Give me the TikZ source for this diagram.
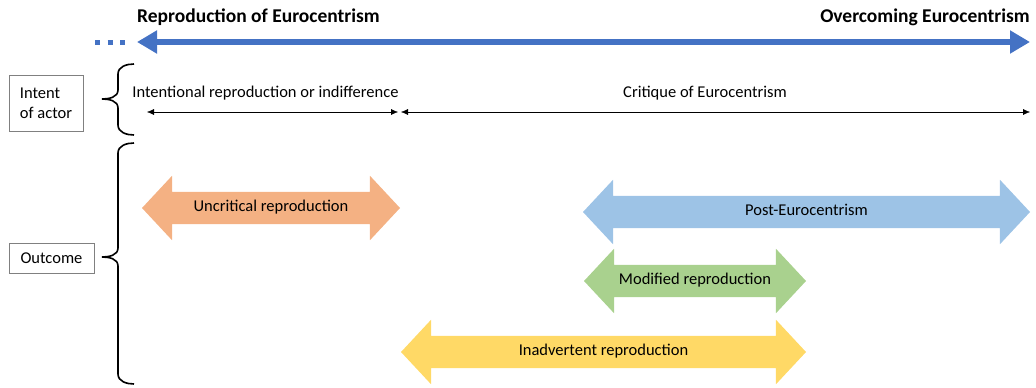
\documentclass[tikz,border=0pt]{standalone}
\usepackage{fontspec}
\setmainfont{Carlito}
\usetikzlibrary{arrows.meta, shapes.arrows}

\definecolor{axisblue}{HTML}{4472C4}
\definecolor{uncritical}{HTML}{F4B183}
\definecolor{posteuro}{HTML}{9DC3E6}
\definecolor{modified}{HTML}{A9D18E}
\definecolor{inadvertent}{HTML}{FFD966}

\tikzset{
  band/.style={double arrow, draw=none, double arrow head extend=16pt,
    double arrow tip angle=94, minimum height=#1, inner xsep=0pt,
    inner ysep=10pt, text height=9pt, text depth=3pt},
  heading/.style={font=\fontsize{19.5}{22}\selectfont\bfseries, inner sep=0pt},
  rowbox/.style={draw=gray, thin, align=left, inner sep=0pt},
  curly/.style={line width=1.6pt},
  span/.style={{Latex[length=7pt,width=6pt]}-{Latex[length=7pt,width=6pt]}, thin}
}

\begin{document}
\begin{tikzpicture}[x=1pt, y=-1pt, font=\fontsize{16.5}{20}\selectfont]
  \useasboundingbox (0,0) rectangle (1036,388);

  % headings
  \node[heading, anchor=west] (repro) at (137,17) {Reproduction of Eurocentrism};
  \node[heading, anchor=east] (overc) at (1030,17) {Overcoming Eurocentrism};

  % axis
  \coordinate (axisL) at (137,42);
  \coordinate (axisR) at (1030,42);
  \coordinate (dotsL) at (95,42);
  \coordinate (dotsR) at (125,42);
  \draw[axisblue, line width=5.5pt,
    {Triangle[length=20pt,width=22pt]}-{Triangle[length=20pt,width=22pt]}]
    (axisL) -- (axisR);
  \draw[axisblue, line width=5pt, dash pattern=on 5pt off 7.5pt] (dotsL) -- (dotsR);

  % row labels
  \node[rowbox, minimum width=74pt, minimum height=56pt] (intent) at (46,103)
    {Intent\\of actor};
  \node[rowbox, minimum width=85pt, minimum height=30pt] (outcome) at (51.5,258)
    {Outcome};

  % braces
  \draw[curly] (134,64) to[out=180,in=90] (118,74) -- (118,90)
    to[out=-90,in=0] (102,99) to[out=0,in=90] (118,108) -- (118,125)
    to[out=-90,in=180] (134,135);
  \draw[curly] (134,143) to[out=180,in=90] (118,153) -- (118,248)
    to[out=-90,in=0] (102,257) to[out=0,in=90] (118,266) -- (118,374)
    to[out=-90,in=180] (134,384);

  % intent of actor
  \node (intentional) at (265.5,93) {Intentional reproduction or indifference};
  \node (critique) at (705,93) {Critique of Eurocentrism};
  \coordinate (spanL) at (147,112);
  \coordinate (spanM) at (398,112);
  \coordinate (spanN) at (401,112);
  \coordinate (spanR) at (1030,112);
  \draw[span] (spanL) -- (spanM);
  \draw[span] (spanN) -- (spanR);

  % outcomes
  \node[band=258pt, fill=uncritical] (uncrit) at (271,208) {Uncritical reproduction};
  \node[band=447pt, fill=posteuro] (post) at (806.5,212) {Post-Eurocentrism};
  \node[band=222pt, fill=modified] (modif) at (695,281) {Modified reproduction};
  \node[band=405pt, fill=inadvertent] (inadv) at (603.5,352) {Inadvertent reproduction};
\end{tikzpicture}
\end{document}
